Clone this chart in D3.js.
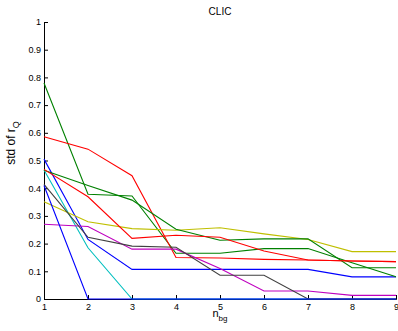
<!DOCTYPE html>
<html>
<head>
<meta charset="utf-8">
<script src="https://cdn.jsdelivr.net/npm/d3@7"></script>
<style>
  body { margin: 0; background: #fff; }
  text { font-family: "Liberation Sans", Arial, Helvetica, sans-serif; fill: #000; }
</style>
</head>
<body>
<div id="chart"></div>
<script>
// x values (number of background points)
var nbg = [1, 2, 3, 4, 5, 6, 7, 8, 9];
var xTicks = [1, 2, 3, 4, 5, 6, 7, 8, 9];
var yTicks = [0, 0.1, 0.2, 0.3, 0.4, 0.5, 0.6, 0.7, 0.8, 0.9, 1];

// std of r_Q, one array per run (matlab colour order)
var run1 = [0.505, 0.215, 0.107, 0.107, 0.107, 0.107, 0.107, 0.08, 0.08];
var run2 = [0.78, 0.378, 0.372, 0.165, 0.165, 0.182, 0.182, 0.131, 0.08];
var run3 = [0.586, 0.541, 0.445, 0.15, 0.148, 0.143, 0.141, 0.137, 0.135];
var run4 = [0.466, 0.185, 0, 0, 0, 0, 0, 0, 0];
var run5 = [0.27, 0.262, 0.18, 0.18, 0.11, 0.029, 0.029, 0.013, 0.013];
var run6 = [0.351, 0.279, 0.254, 0.248, 0.257, 0.235, 0.215, 0.171, 0.171];
var run7 = [0.414, 0.223, 0.191, 0.187, 0.086, 0.086, 0, 0, 0];
var run8 = [0.41, 0, 0, 0, 0, 0, 0, 0, 0];
var run9 = [0.465, 0.41, 0.357, 0.252, 0.212, 0.217, 0.217, 0.113, 0.113];
var run10 = [0.468, 0.369, 0.219, 0.23, 0.223, 0.173, 0.141, 0.137, 0.135];

var runs = [run1, run2, run3, run4, run5, run6, run7, run8, run9, run10];
var colors = ["#0000ff", "#008000", "#ff0000", "#00bfbf", "#bf00bf", "#bfbf00", "#404040"];

var width = 398, height = 331;
var margin = {top: 22, right: 2, bottom: 32, left: 44};

var svg = d3.select("#chart").append("svg")
    .attr("width", width)
    .attr("height", height);

var x = d3.scaleLinear().domain([1, 9]).range([margin.left, width - margin.right]);
var y = d3.scaleLinear().domain([0, 1]).range([height - margin.bottom, margin.top]);

// axes, matlab style: ticks point inward
var xAxis = svg.append("g")
    .attr("transform", "translate(0," + y(0) + ")")
    .call(d3.axisBottom(x).tickValues(xTicks).tickSize(-4).tickPadding(5).tickFormat(d3.format("d")));
var yAxis = svg.append("g")
    .attr("transform", "translate(" + x(1) + ",0)")
    .call(d3.axisLeft(y).tickValues(yTicks).tickSize(-4).tickPadding(3).tickFormat(function(d){ return d3.format("")(d); }));

[xAxis, yAxis].forEach(function(a){
    a.select(".domain").attr("stroke", "#000").attr("stroke-width", 1);
    a.selectAll(".tick line").attr("stroke", "#000");
    a.selectAll(".tick text").style("font-size", "9px");
});

// the lines
var line = d3.line()
    .x(function(d, i){ return x(nbg[i]); })
    .y(function(d){ return y(d); });

svg.append("g").selectAll("path")
    .data(runs)
    .enter()
    .append("path")
    .attr("d", line)
    .attr("fill", "none")
    .attr("stroke", function(d, i){ return colors[i % colors.length]; })
    .attr("stroke-width", 1.1);

// title + labels
svg.append("text")
    .attr("x", x(5)).attr("y", 15)
    .attr("text-anchor", "middle")
    .style("font-size", "10px")
    .text("CLIC");

var xl = svg.append("text")
    .attr("x", x(5)).attr("y", 317)
    .attr("text-anchor", "middle")
    .style("font-size", "11px");
xl.append("tspan").text("n");
xl.append("tspan").attr("dy", 4).style("font-size", "8px").text("bg");

var yl = svg.append("text")
    .attr("transform", "translate(15,143) rotate(-90)")
    .attr("text-anchor", "middle")
    .style("font-size", "12px");
yl.append("tspan").text("std of r");
yl.append("tspan").attr("dy", 4).style("font-size", "9px").text("Q");
</script>
</body>
</html>
